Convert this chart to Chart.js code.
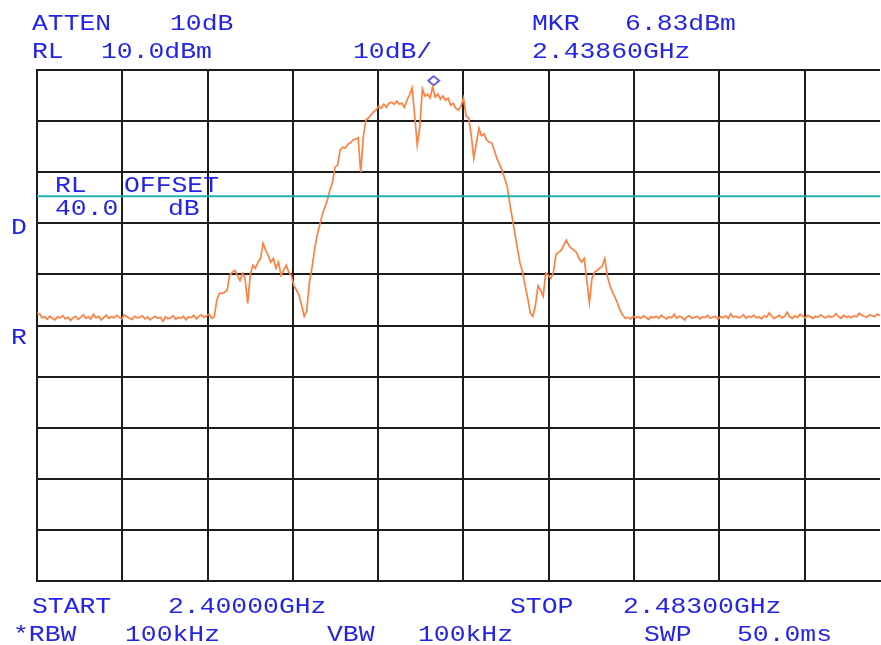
<!DOCTYPE html>
<html>
<head>
<meta charset="utf-8">
<script src="https://cdn.jsdelivr.net/npm/chart.js@4/dist/chart.umd.min.js"></script>
<style>
  html, body { margin: 0; padding: 0; background: #ffffff; overflow: hidden; }
  #c { display: block; }
</style>
</head>
<body>
<canvas id="c" width="881" height="645" style="width:881px;height:645px"></canvas>
<script>
// ---- sweep settings (MHz / dBm) ----
const START_MHZ = 2400.0;
const STOP_MHZ = 2483.0;
const STEP_MHZ = 0.25;
const REF_LEVEL = 10;      // dBm, top of screen
const DB_PER_DIV = 10;
const DIVS = 10;
const VIEW_MAX_MHZ = 2482.03; // right edge of the visible screen

// ---- trace levels (dBm), one every 0.25 MHz ----
const floorLow = [
  -37.6,-37.7,-38.5,-38.3,-38.8,-38.2,-38.6,-38.9,-38.3,-38.5,
  -38.1,-38.7,-38.4,-39.0,-38.5,-38.2,-38.8,-38.4,-37.9,-38.6,
  -38.3,-38.7,-37.8,-38.5,-38.2,-38.9,-38.4,-38.0,-38.6,-38.3,
  -38.5,-38.0,-38.4,-38.7,-37.9,-38.3,-38.6,-38.8,-38.2,-38.5,
  -38.4,-38.1,-38.7,-38.3,-38.9,-38.5,-38.2,-38.6,-38.4,-39.2,
  -38.3,-38.7,-38.5,-38.1,-38.8,-38.4,-38.6,-38.2,-38.9,-38.3,
  -38.5,-38.0,-38.7,-38.2,-37.9,-38.4,-38.1,-37.8,-38.6,-38.3
];
const lowerSidelobe = [
  -35.0,-33.7,-33.7,-33.5,-33.1,-30.2,-29.6,-29.2,-30.2,-31.2,
  -29.8,-30.8,-35.7,-30.2,-28.2,-28.8,-27.6,-26.9,-23.9,-25.3,
  -26.3,-27.6,-26.9,-28.8,-27.6,-30.2,-29.2,-28.2,-29.6,-30.2,
  -32.2,-33.1,-34.1,-36.1,-38.2,-37.1
];
const mainLobe = [
  -31.6,-28.8,-25.3,-22.4,-20.4,-18.4,-16.9,-15.5,-13.5,-12.0,
  -9.0,-8.6,-5.7,-5.1,-5.3,-4.5,-4.3,-3.7,-3.5,-3.3,
  -10.0,-3.1,0.2,0.6,1.2,1.8,2.2,2.9,2.5,3.3,
  2.7,3.5,3.7,3.3,3.9,3.3,3.5,2.7,4.1,5.1,
  6.5,1.2,-4.7,-1.2,6.3,4.9,5.3,4.5,6.7,4.7,
  5.3,4.3,4.9,4.1,4.5,3.1,3.5,2.5,2.2,2.9,
  4.5,1.0,0.6,-2.7,-7.3,-4.3,-1.4,-2.9,-2.5,-3.7,
  -4.1,-4.3,-5.7,-7.3,-8.4,-9.6,-11.2,-12.7,-16.1,-19.0,
  -22.0,-24.9,-27.8,-29.6,-32.2,-34.7,-37.6,-38.2
];
const upperSidelobe = [
  -36.1,-32.2,-33.1,-34.3,-29.8,-30.2,-30.8,-29.6,-26.1,-25.7,
  -25.3,-24.3,-23.3,-24.3,-24.9,-25.3,-25.7,-26.9,-27.6,-26.9,
  -31.2,-35.5,-30.8,-29.6,-29.2,-28.8,-28.4,-26.9,-30.4,-32.2,
  -33.5,-34.5,-35.7,-37.1,-38.0,-38.6
];
const floorHigh = [
  -38.4,-38.7,-38.2,-38.5,-38.3,-38.6,-38.1,-38.4,-38.8,-38.3,
  -38.5,-38.2,-38.6,-38.0,-38.4,-38.7,-38.3,-38.5,-37.8,-38.6,
  -38.2,-38.4,-38.9,-38.3,-38.1,-38.6,-38.4,-38.2,-38.7,-38.3,
  -38.5,-38.0,-38.6,-38.4,-38.2,-38.8,-38.3,-38.5,-38.1,-38.6,
  -37.7,-38.4,-38.2,-38.5,-38.3,-37.9,-38.6,-38.2,-38.4,-38.0,
  -38.5,-38.3,-38.7,-38.1,-38.4,-37.5,-38.2,-38.6,-38.3,-38.0,
  -38.5,-38.2,-37.4,-38.3,-38.6,-38.1,-38.4,-37.8,-38.2,-38.5,
  -38.0,-38.3,-38.6,-38.2,-38.4,-37.9,-38.3,-38.5,-38.1,-38.4,
  -38.2,-37.7,-38.3,-38.6,-38.0,-38.4,-38.2,-38.5,-38.1,-38.3,
  -37.6,-38.0,-38.2,-38.4,-37.9,-38.1,-38.3,-37.8,-38.0,-38.2,
  -38.1,-37.9,-38.0
];

// ---- marker & display line ----
const markerFreq = [2438.60];
const markerLevel = [6.83];
const displayLineLevel = -14.7;

// ---- screen annotations ----
const annotations = [
  ['ATTEN', 32, 30], ['10dB', 170, 30], ['MKR', 532, 30], ['6.83dBm', 625, 30],
  ['RL', 32, 58], ['10.0dBm', 101, 58], ['10dB/', 353, 58], ['2.43860GHz', 532, 58],
  ['START', 32, 613], ['2.40000GHz', 168, 613], ['STOP', 510, 613], ['2.48300GHz', 623, 613],
  ['*RBW', 13, 641], ['100kHz', 125, 641], ['VBW', 327, 641], ['100kHz', 418, 641],
  ['SWP', 644, 641], ['50.0ms', 737, 641],
  ['D', 11, 234], ['R', 11, 344],
  ['RL', 55, 192], ['OFFSET', 124, 192], ['40.0', 55, 215], ['dB', 168, 215]
];

const levels = [].concat(floorLow, lowerSidelobe, mainLobe, upperSidelobe, floorHigh);
const tracePoints = levels.map((v, i) => ({ x: START_MHZ + i * STEP_MHZ, y: v }));
const markerPoints = markerFreq.map((f, i) => ({ x: f, y: markerLevel[i] }));
const xTicks = [];
for (let k = 0; k < DIVS; k++) xTicks.push(START_MHZ + k * (STOP_MHZ - START_MHZ) / DIVS);

// marker glyph (diamond sitting just above the marked point)
const mk = document.createElement('canvas');
mk.width = 14; mk.height = 24;
(function () {
  const c = mk.getContext('2d');
  c.strokeStyle = '#2a2ae6'; c.lineWidth = 1.5;
  c.beginPath();
  c.moveTo(7, 2); c.lineTo(12.5, 6.5); c.lineTo(7, 11); c.lineTo(1.5, 6.5);
  c.closePath(); c.stroke();
})();

const TEXT_COLOR = '#2424e6';
const textPlugin = {
  id: 'screenText',
  afterDraw(chart) {
    const ctx = chart.ctx;
    ctx.save();
    ctx.fillStyle = TEXT_COLOR;
    ctx.font = '22px "Liberation Mono", "DejaVu Sans Mono", monospace';
    ctx.textBaseline = 'alphabetic';
    ctx.textAlign = 'left';
    const sx = 1.2;
    ctx.scale(sx, 1);
    for (const [t, x, y] of annotations) ctx.fillText(t, x / sx, y);
    ctx.restore();
  }
};

const GRID = '#1c1c1c';

new Chart(document.getElementById('c'), {
  type: 'line',
  data: {
    datasets: [
      {
        label: 'display line',
        data: [{ x: START_MHZ, y: displayLineLevel }, { x: STOP_MHZ, y: displayLineLevel }],
        borderColor: '#1fb3b3', borderWidth: 2, pointRadius: 0, tension: 0
      },
      {
        label: 'trace',
        data: tracePoints,
        borderColor: '#ff8040', borderWidth: 1.7, pointRadius: 0, tension: 0
      },
      {
        label: 'marker',
        data: markerPoints,
        showLine: false, pointStyle: mk, pointRadius: 1, pointBorderWidth: 0,
        pointHoverRadius: 1, pointHoverBorderWidth: 0, clip: false
      }
    ]
  },
  options: {
    responsive: false,
    maintainAspectRatio: false,
    devicePixelRatio: 1,
    animation: false,
    events: [],
    layout: { padding: { left: 37, top: 70, right: 0, bottom: 64 } },
    plugins: { legend: { display: false }, tooltip: { enabled: false }, title: { display: false } },
    scales: {
      x: {
        type: 'linear',
        min: START_MHZ, max: VIEW_MAX_MHZ,
        afterBuildTicks: (s) => { s.ticks = xTicks.map(v => ({ value: v })); },
        ticks: { display: false },
        grid: { color: GRID, lineWidth: 2, drawTicks: false, tickLength: 0 },
        border: { display: true, color: GRID, width: 2 }
      },
      y: {
        type: 'linear',
        min: REF_LEVEL - DB_PER_DIV * DIVS, max: REF_LEVEL,
        ticks: { display: false, stepSize: DB_PER_DIV },
        grid: { color: GRID, lineWidth: 2, drawTicks: false, tickLength: 0 },
        border: { display: true, color: GRID, width: 2 }
      }
    }
  },
  plugins: [textPlugin]
});
</script>
</body>
</html>
